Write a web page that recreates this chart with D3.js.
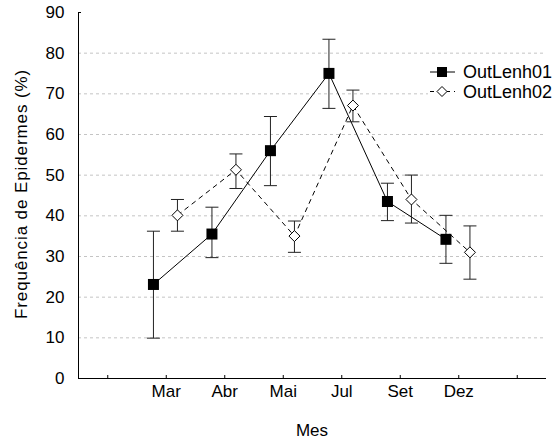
<!DOCTYPE html>
<html>
<head>
<meta charset="utf-8">
<script src="https://cdn.jsdelivr.net/npm/d3@7"></script>
<style>
  body { margin: 0; background: #fff; }
  svg { font-family: "Liberation Sans", Arial, sans-serif; }
</style>
</head>
<body>
<svg id="chart" width="559" height="441"></svg>
<script>
// data
const months = ["Mar", "Abr", "Mai", "Jul", "Set", "Dez"];
const yTicks = [0, 10, 20, 30, 40, 50, 60, 70, 80, 90];
const gridTicks = [10, 20, 30, 40, 50, 60, 70, 80];

const lenh01Mean = [23.0, 35.4, 55.9, 74.9, 43.4, 34.1];
const lenh01Low  = [9.8, 29.6, 47.3, 66.3, 38.7, 28.2];
const lenh01High = [36.1, 42.0, 64.3, 83.3, 47.9, 40.0];

const lenh02Mean = [40.0, 51.2, 34.9, 67.0, 43.9, 30.9];
const lenh02Low  = [36.1, 46.6, 30.9, 63.0, 38.1, 24.3];
const lenh02High = [43.9, 55.1, 38.6, 70.8, 49.9, 37.4];

const seriesNames = ["OutLenh01", "OutLenh02"];

const margin = {top: 12, right: 13, bottom: 63, left: 78},
    width = 559,
    height = 441;

const svg = d3.select("#chart");

// two empty slots at the ends, like the original
const xDomain = ["_a", ...months, "_b"];
const xScale = d3.scalePoint().domain(xDomain)
    .range([margin.left, width - margin.right]).padding(0.5);
const yScale = d3.scaleLinear().domain([0, 90])
    .range([height - margin.bottom, margin.top]);

// grid
svg.append("g").selectAll("line")
    .data(gridTicks)
    .join("line")
    .attr("x1", margin.left).attr("x2", width - margin.right)
    .attr("y1", d => yScale(d) + 0.5).attr("y2", d => yScale(d) + 0.5)
    .attr("stroke", "#c4c4c4")
    .attr("stroke-dasharray", "3,3");

// axes
const xAxis = svg.append("g")
    .attr("transform", `translate(0, ${yScale(0)})`)
    .call(d3.axisBottom(xScale).tickSizeInner(-3).tickSizeOuter(0).tickPadding(12)
        .tickFormat(d => d.startsWith("_") ? "" : d));
xAxis.select(".domain").attr("stroke", "#000").attr("d", `M${margin.left},0.5H${width - margin.right}`);
xAxis.selectAll(".tick text").attr("font-size", 17).attr("fill", "#000")
    .attr("dy", "0.95em").attr("y", 3);

const yAxis = svg.append("g")
    .attr("transform", `translate(${margin.left}, 0)`)
    .call(d3.axisLeft(yScale).tickValues(yTicks).tickSizeInner(-3).tickSizeOuter(0).tickPadding(13));
yAxis.select(".domain").attr("stroke", "#000");
yAxis.selectAll(".tick line").attr("stroke", d => d === 90 ? "#000" : "none");
yAxis.selectAll(".tick text").attr("font-size", 17).attr("fill", "#000").attr("x", -13.5);

// axis titles
svg.append("text")
    .attr("x", (margin.left + width - margin.right) / 2)
    .attr("y", 436)
    .attr("text-anchor", "middle")
    .attr("font-size", 17)
    .text("Mes");

svg.append("text")
    .attr("transform", "translate(26.5, 194) rotate(-90)")
    .attr("text-anchor", "middle")
    .attr("font-size", 17)
    .attr("letter-spacing", "0.9px")
    .text("Frequência de Epidermes (%)");

// series
const series = [
    {name: seriesNames[0], mean: lenh01Mean, lo: lenh01Low, hi: lenh01High, dx: -12.3, dash: null, shape: "square"},
    {name: seriesNames[1], mean: lenh02Mean, lo: lenh02Low, hi: lenh02High, dx: 11.7, dash: "5,4", shape: "diamond"}
];

const line = d3.line();

series.forEach(s => {
    const pts = months.map((m, i) => ({x: xScale(m) + s.dx, m: s.mean[i], lo: s.lo[i], hi: s.hi[i]}));
    const g = svg.append("g");

    g.append("path")
        .attr("d", line(pts.map(p => [p.x, yScale(p.m)])))
        .attr("fill", "none")
        .attr("stroke", "#000")
        .attr("stroke-width", 1)
        .attr("stroke-dasharray", s.dash);

    // error bars
    const eb = g.selectAll(".eb").data(pts).join("g").attr("class", "eb");
    eb.append("line")
        .attr("x1", d => d.x).attr("x2", d => d.x)
        .attr("y1", d => yScale(d.lo)).attr("y2", d => yScale(d.hi))
        .attr("stroke", "#222");
    eb.append("line")
        .attr("x1", d => d.x - 6.5).attr("x2", d => d.x + 6.5)
        .attr("y1", d => yScale(d.hi)).attr("y2", d => yScale(d.hi))
        .attr("stroke", "#222");
    eb.append("line")
        .attr("x1", d => d.x - 6.5).attr("x2", d => d.x + 6.5)
        .attr("y1", d => yScale(d.lo)).attr("y2", d => yScale(d.lo))
        .attr("stroke", "#222");

    if (s.shape === "square") {
        g.selectAll(".mk").data(pts).join("rect")
            .attr("x", d => d.x - 5.5).attr("y", d => yScale(d.m) - 5.5)
            .attr("width", 11).attr("height", 11)
            .attr("fill", "#000");
    } else {
        g.selectAll(".mk").data(pts).join("path")
            .attr("d", d => `M${d.x},${yScale(d.m) - 5.5}L${d.x + 5.5},${yScale(d.m)}L${d.x},${yScale(d.m) + 5.5}L${d.x - 5.5},${yScale(d.m)}Z`)
            .attr("fill", "#fff")
            .attr("stroke", "#000");
    }
});

// legend
const legend = svg.append("g");
legend.append("rect")
    .attr("x", 428).attr("y", 60).attr("width", 131).attr("height", 40)
    .attr("fill", "#fff");

const legendRows = legend.selectAll(".row")
    .data(series)
    .join("g")
    .attr("class", "row")
    .attr("transform", (d, i) => `translate(0, ${72 + i * 19.5})`);

legendRows.append("line")
    .attr("x1", 430).attr("x2", 455)
    .attr("stroke", "#000")
    .attr("stroke-dasharray", d => d.dash ? "4,4" : null);

legendRows.each(function(d) {
    const r = d3.select(this);
    if (d.shape === "square") {
        r.append("rect").attr("x", 437).attr("y", -5).attr("width", 10).attr("height", 10).attr("fill", "#000");
    } else {
        r.append("path").attr("d", "M442,-5L447,0L442,5L437,0Z").attr("fill", "#fff").attr("stroke", "#000");
    }
});

legendRows.append("text")
    .attr("x", 463)
    .attr("y", 6)
    .attr("font-size", 18)
    .text(d => d.name);
</script>
</body>
</html>
